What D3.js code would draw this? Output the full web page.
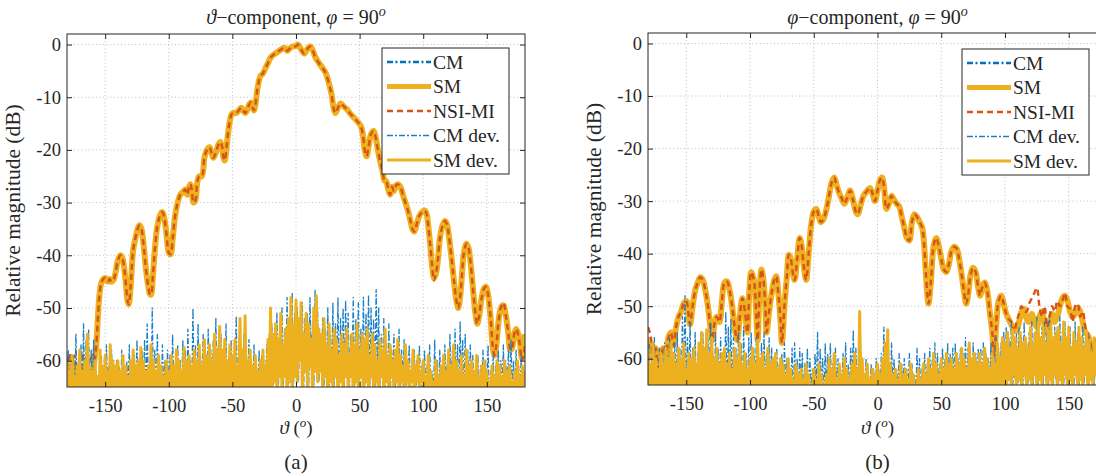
<!DOCTYPE html>
<html>
<head>
<meta charset="utf-8">
<script src="https://cdn.jsdelivr.net/npm/d3@7"></script>
<style>
body { margin: 0; background: #fff; }
svg text { font-family: "Liberation Serif", "Times New Roman", Tinos, "DejaVu Serif", "Noto Serif", FreeSerif, serif; fill: #262626; }
</style>
</head>
<body>
<svg id="fig" width="1096" height="476"></svg>
<script>
// ---- (a) theta component, main curves: angle (deg) and level (dB)
var thA = [-180,-178,-176,-174,-172,-170,-168,-166,-164,-162,
  -160,-158.5,-157,-156,-155,-154,-153,-151.5,-150,-148,
  -146.5,-145,-143.5,-142,-140,-138,-136.5,-135,-133.5,-132.5,
  -131.5,-130,-128,-126,-124.5,-123,-121.5,-120,-119,-118,
  -117,-116,-115,-114,-112.5,-111,-109,-107,-105.5,-104.5,
  -103.5,-102,-101,-100,-98.5,-97,-95,-93,-91,-89,
  -87,-85.5,-84,-83,-82,-80.5,-79,-77.5,-76,-74,
  -72,-70,-68,-66.5,-65,-63,-61,-59.5,-58,-57,
  -56,-55,-53.5,-52,-50.5,-49,-47,-45,-43,-41.5,
  -40,-38.5,-37,-35.5,-34,-33,-32,-30,-28,-26,
  -24,-22,-20,-18,-15,-12,-9,-7,-5.5,-3,
  0,1.5,3,5,6.5,8,10,11.5,13,15,
  18,21,23.5,26,28,29.5,31,33,35,37,
  40,43,46,49,51,52.5,54,55.5,57,59,
  61,62.5,64,66,68,69.5,71,72.5,74,75.5,
  77,78.5,80,82,84,86,88,90,91.5,93,
  95,97,99,101,102.5,104,105.5,107,108.5,110,
  111.5,113,115,117,118.5,120,122,124,126,127.5,
  129,130.5,132,134,135.5,137,139,141,142.5,144,
  146,148,149.5,151,153,154.5,156,157.5,159,161,
  163,165,167,168.5,170,171.5,173,174.5,176,177.5,
  179,180];

var smA = [-61,-63,-60,-62.5,-65,-63,-61,-64,-66,-64,
  -62,-60,-57,-53,-49,-46.5,-45.2,-44.5,-44.3,-45,
  -44.5,-45,-44.7,-43.5,-41,-40,-40.5,-42.5,-46,-48.5,
  -49.3,-46,-39,-36.5,-35,-34.3,-35,-37.5,-40,-42.5,
  -44.5,-46,-47.3,-47.5,-44,-39,-34.5,-32.5,-31.8,-32,
  -33,-35.5,-38,-39.5,-39.8,-37,-32.5,-30,-28.5,-28,
  -27.5,-28.5,-27,-26.5,-27.5,-30,-29.5,-26,-25,-25,
  -21.5,-20,-19.5,-20.5,-21.5,-20.5,-19,-18.5,-19.5,-21.5,
  -22,-20.5,-17,-14.5,-13.2,-13,-13,-12.5,-12,-12.5,
  -13,-12.5,-11.5,-11,-12,-12.5,-11.5,-8,-6,-5.5,
  -4.5,-3.5,-2.5,-2,-1.5,-1,-0.6,-1.2,-0.9,-0.4,
  -0.3,0,-0.5,-1.3,-1.7,-1.2,-0.5,-0.4,-1,-2.3,
  -3.5,-4.5,-5.5,-7.5,-9.5,-12,-13,-12,-11.2,-11.6,
  -12.3,-13.2,-14,-14.8,-15.5,-17,-20,-21.2,-19.5,-17,
  -16.4,-17.5,-19.5,-22,-24,-25.8,-26,-27.5,-28.5,-27,
  -27.8,-26.8,-26.5,-27,-28.5,-30,-31.5,-33.5,-35,-35.5,
  -34,-32.5,-31.8,-31.5,-32,-34.5,-38,-42,-44.3,-43.5,
  -41,-37,-34.5,-33.5,-34,-36,-40,-44.5,-48.5,-50,
  -48,-43.5,-39.5,-37.8,-38.5,-41,-46,-51,-53,-51.5,
  -48,-46.2,-46,-47.5,-52,-57,-59,-57,-53,-50,
  -49.5,-51.5,-55,-58,-57.5,-55,-54,-54.8,-56.5,-59.5,
  -57,-55];

// CM and SM coincide to within the line width
var cmA = smA;

var nsiA = [-62,-58.5,-61,-59,-62,-60,-58.5,-62,-63,-60,
  -59,-60,-57,-53,-49,-46.5,-45.2,-44.5,-44.3,-45,
  -44.5,-45,-44.7,-43.5,-41,-40,-40.5,-42.5,-46,-48.5,
  -49.3,-46,-39,-36.5,-35,-34.3,-35,-37.5,-40,-42.5,
  -44.5,-46,-47.3,-47.5,-44,-39,-34.5,-32.5,-31.8,-32,
  -33,-35.5,-38,-39.5,-39.8,-37,-32.5,-30,-28.5,-28,
  -27.5,-28.5,-27,-26.5,-27.5,-30,-29.5,-26,-25,-25,
  -21.5,-20,-19.5,-20.5,-21.5,-20.5,-19,-18.5,-19.5,-21.5,
  -22,-20.5,-17,-14.5,-13.2,-13,-13,-12.5,-12,-12.5,
  -13,-12.5,-11.5,-11,-12,-12.5,-11.5,-8,-6,-5.5,
  -4.5,-3.5,-2.5,-2,-1.5,-1,-0.6,-1.2,-0.9,-0.4,
  -0.3,0,-0.5,-1.3,-1.7,-1.2,-0.5,-0.4,-1,-2.3,
  -3.5,-4.5,-5.5,-7.5,-9.5,-12,-13,-12,-11.2,-11.6,
  -12.3,-13.2,-14,-14.8,-15.5,-17,-20,-21.2,-19.5,-17,
  -16.4,-17.5,-19.5,-22,-24,-25.8,-26,-27.5,-28.5,-27,
  -27.8,-26.8,-26.5,-27,-28.5,-30,-31.5,-33.5,-35,-35.5,
  -34,-32.5,-31.8,-31.5,-32,-34.5,-38,-42,-44.8,-43.5,
  -41,-37,-34.5,-33.5,-34,-36,-40,-44.5,-48.5,-50,
  -48,-43.5,-39.5,-37.8,-38.5,-41,-46,-51,-53,-51.5,
  -48,-46.2,-46,-47.5,-52,-57,-59,-57,-53,-50,
  -49,-51.5,-55,-58,-57.5,-55,-54,-55,-57,-60,
  -59,-57];

// (a) deviation curves, one value per degree from -180 to 180
var smDevA = [
  -60,-67,-62,-70,-59,-66,-63,-69,-61,-66,-58,-68,-62,-66,-60,-69,-55,-66,-61,-68,
  -62,-69,-60,-66,-63,-70,-58,-66,-61,-68,-59,-67,-62,-70,-57,-66,-60,-68,-61,-66,
  -60,-68,-62,-66,-59,-69,-61,-66,-63,-70,-60,-66,-58,-68,-61,-66,-60,-69,-57.5,-66,
  -60,-68,-62,-66,-61,-70,-57,-66,-60,-68,-62,-66,-59,-69,-61,-66,-63,-70,-60,-66,
  -62,-68,-59,-66,-61,-69,-58,-66,-60,-68,-62,-66,-57.5,-69,-60,-66,-59,-68,-61,-66,
  -58,-68,-60,-66,-57,-69,-61,-66,-56,-68,-59,-66,-57,-69,-60,-66,-55,-68,-58,-66,
  -53.5,-68,-58,-66,-56,-69,-60,-66,-57,-68,-59,-66,-56,-69,-61,-66,-52,-68,-58,-66,
  -51.5,-68,-60,-66,-58,-69,-61,-66,-59,-68,-62,-66,-60,-69,-58,-66,-61,-68,-56,-66,
  -50,-67,-55,-64,-53,-68,-56,-63,-51,-66,-57,-63,-54,-67,-52,-64,-48,-66,-53,-63,
  -48.5,-64,-52,-60,-49,-66,-55,-62,-51,-65,-53,-61,-56,-66,-50,-62,-47.7,-64,-54,-62,
  -55,-66,-52,-63,-57,-68,-53,-64,-58,-66,-54,-63,-56,-68,-59,-64,-55,-66,-57,-63,
  -54,-66,-59,-63,-55,-68,-57,-64,-53,-66,-58,-63,-55,-68,-56,-64,-54,-66,-59,-63,
  -55,-66,-57,-64,-60,-68,-56,-63,-58,-66,-54,-64,-59,-68,-57,-63,-60,-66,-58,-64,
  -56,-66,-59,-64,-61,-68,-57,-64,-60,-66,-62,-64,-58,-68,-61,-64,-59,-66,-62,-64,
  -60,-68,-63,-66,-59,-69,-62,-66,-64,-68,-60,-66,-63,-69,-61,-66,-59,-68,-62,-66,
  -58,-68,-61,-66,-57,-69,-60,-66,-62,-68,-59,-66,-63,-69,-58,-66,-61,-68,-60,-66,
  -62,-68,-59,-66,-63,-69,-61,-66,-60,-68,-62,-66,-64,-69,-61,-66,-63,-68,-60,-66,
  -61,-68,-63,-66,-60,-69,-62,-66,-61,-68,-64,-66,-62,-69,-60,-66,-63,-68,-61,-66,
  -62];

var cmDevA = [
  -66,-58,-69,-62,-66,-59,-70,-55,-66,-60,-68,-57,-66,-53,-69,-56,-66,-54,-68,-58,
  -66,-56,-69,-62,-66,-64,-70,-59,-66,-62,-68,-57,-66,-61,-69,-58,-66,-62,-68,-60,
  -66,-61,-69,-58,-66,-63,-70,-60,-66,-57,-68,-62,-66,-59,-69,-56,-66,-61,-68,-58,
  -66,-56,-69,-53,-66,-60,-70,-50,-66,-58,-68,-55,-66,-61,-69,-57,-66,-60,-68,-58,
  -66,-59,-69,-55,-66,-61,-70,-57,-66,-60,-68,-56,-66,-58,-69,-54,-66,-60,-68,-50,
  -66,-57,-69,-53,-66,-59,-70,-55,-66,-61,-68,-54,-66,-58,-69,-56,-66,-52,-68,-57,
  -66,-55,-69,-58,-66,-53,-70,-60,-66,-56,-68,-59,-66,-51.5,-69,-57,-66,-60,-68,-55,
  -66,-58,-69,-56,-66,-60,-70,-57,-66,-61,-68,-58,-66,-59,-69,-62,-66,-57,-68,-55,
  -66,-53,-67,-56,-64,-51,-68,-55,-63,-50,-66,-54,-63,-48,-67,-52,-64,-47,-66,-51,
  -63,-50,-64,-53,-60,-49,-66,-52,-62,-51,-65,-48,-61,-53,-66,-46.5,-62,-50,-64,-55,
  -62,-52,-66,-54,-63,-50,-68,-55,-64,-49,-66,-53,-63,-48,-68,-52,-64,-50,-66,-48.5,
  -63,-51,-66,-55,-63,-48,-68,-52,-64,-49,-66,-54,-63,-48,-68,-51,-64,-47.5,-66,-50,
  -63,-52,-66,-46.5,-64,-50,-68,-55,-63,-52,-66,-57,-64,-53,-68,-58,-63,-55,-66,-60,
  -64,-54,-66,-58,-64,-56,-68,-60,-64,-57,-66,-62,-64,-58,-68,-60,-64,-57,-66,-61,
  -68,-58,-66,-61,-69,-57,-66,-62,-68,-56,-66,-60,-69,-58,-66,-62,-68,-57,-66,-60,
  -68,-55,-66,-58,-69,-54,-66,-57,-68,-52.5,-66,-56,-69,-55,-66,-58,-68,-57,-66,-59,
  -68,-62,-66,-59,-69,-61,-66,-58,-68,-60,-66,-57,-69,-62,-66,-59,-68,-61,-66,-58,
  -68,-60,-66,-57,-69,-61,-66,-58,-68,-56,-66,-60,-69,-58,-66,-61,-68,-59,-66,-62,
  -66];

// ---- (b) phi component, main curves
var thB = [-180,-178,-176,-174,-172,-170,-168,-166,-164,-162,
  -160,-158,-156,-154,-152,-150,-148.5,-147,-145,-143,
  -141,-139,-137,-135,-133,-131,-129.5,-128,-126,-124,
  -122,-120,-118,-116,-114,-112,-110,-108,-106,-104,
  -102,-100.5,-99,-97,-95,-94,-92.5,-91,-89.5,-88,
  -87,-85,-83,-81,-79.5,-78,-76,-75,-73,-71,
  -69.5,-68,-66.5,-65,-63,-61,-59.5,-58,-56,-54,
  -52,-50,-48,-46,-44.5,-42.5,-40,-38,-36,-34,
  -32,-30,-28,-26,-24,-21.5,-19,-17,-15.5,-13,
  -11,-8,-6,-4,-2,0,2,3.5,5,7,
  9,11,13,15,17,19,21,23,25,27,
  29,31,33,35,36.5,38,40,42,44,46,
  48,50,52,54,56,58,60,62,64,66,
  68,69.5,71,73,75,77,79,80.5,82,84,
  86,88,90,91.5,93,95,97,99,101,103,
  105,107,109,111,113,115,117,119,121,123,
  125,127,129,131,133,135,137,139,141,143,
  145,147,149,151,153,155,157,159,161,163,
  165,167,169,171,173,175,177,180];

var smB = [-56,-57.5,-60,-58,-62,-60,-58,-59.5,-56,-55,
  -57.5,-54,-52,-51,-49.5,-49,-51,-53.5,-50,-47,
  -45.5,-44.5,-45,-47,-50,-54,-56.5,-53.5,-52,-53,
  -49,-45.5,-45.3,-47,-50,-54,-56.5,-52,-48.5,-51,
  -55,-47,-43.5,-45,-52,-56.5,-47,-43,-45,-50,
  -55,-51,-47.5,-45,-44.3,-47,-53,-57,-50,-44,
  -40.2,-41,-43.5,-45,-41,-37,-38.5,-42,-45,-40,
  -34.5,-32,-31.5,-33,-34,-33.5,-31.5,-29,-26.5,-25.5,
  -27,-28.5,-29.5,-30.5,-29.5,-28,-30,-32,-32.5,-30.5,
  -29,-28,-27.5,-28.5,-30,-28,-26,-25.5,-27,-31.5,
  -30.5,-29,-29.8,-30.5,-31,-33,-35,-37,-37.5,-34,
  -32.5,-33,-34,-35,-38,-44,-49.5,-45,-38.5,-37,
  -38.5,-41,-43,-43.5,-42,-39.5,-38.7,-39,-41,-44,
  -47.5,-49.5,-48,-44,-42.7,-43.5,-46.5,-48,-46.5,-45.5,
  -47,-51,-55,-59.5,-54,-49,-48,-49.5,-51.5,-52.5,
  -53.5,-54.5,-54.7,-53,-51,-50.5,-52.5,-53,-51.5,-53,
  -54,-52,-51,-53.5,-55,-53,-51.5,-53,-52,-50,
  -48.5,-48,-49,-51,-52,-51.5,-50.3,-51,-53,-55,
  -55.5,-57,-59,-61,-63,-60,-58,-57];

var cmB = smB;

var nsiB = [-54,-55.5,-60,-58,-62,-60,-58,-59.5,-56,-55,
  -57.5,-54,-52,-51,-49.5,-49,-51,-53.5,-50,-47,
  -45.5,-44.5,-45,-47,-50,-54,-56.5,-53.5,-52,-53,
  -49,-45.5,-45.3,-47,-50,-54,-56.5,-52,-48.5,-51,
  -55,-47,-43.5,-45,-52,-56.5,-47,-43,-45,-50,
  -55,-51,-47.5,-45,-44.3,-47,-53,-57,-50,-44,
  -40.2,-41,-43.5,-45,-41,-37,-38.5,-42,-45,-40,
  -34.5,-32,-31.5,-33,-34,-33.5,-31.5,-29,-26.5,-25.5,
  -27,-28.5,-29.5,-30.5,-29.5,-28,-30,-32,-32.5,-30.5,
  -29,-28,-27.5,-28.5,-30,-28,-26,-25.5,-27,-31.5,
  -30.5,-29,-29.8,-30.5,-31,-33,-35,-37,-37.5,-34,
  -32.5,-33,-34,-35,-38,-44,-49.5,-45,-38.5,-37,
  -38.5,-41,-43,-43.5,-42,-39.5,-38.7,-39,-41,-44,
  -47.5,-49.5,-48,-44,-42.7,-43.5,-46.5,-48,-46.5,-45.5,
  -47,-51,-55,-59.5,-54,-49,-48,-49.5,-51.5,-52.5,
  -53,-55,-53,-51.5,-50,-51,-51,-49.5,-48.5,-47.5,
  -46.5,-50,-52,-50,-54,-52,-50,-51,-49,-50,
  -49,-47.5,-50,-50.5,-53,-50,-49.5,-52,-51,-54,
  -55.5,-57,-59,-61,-63,-60,-58,-57];

// (b) deviation curves, one value per degree
var smDevB = [
  -58,-68,-61,-66,-57,-69,-60,-66,-62,-68,-59,-66,-61,-69,-58,-66,-60,-68,-57,-66,
  -59,-68,-61,-66,-58,-69,-60,-66,-57,-68,-62,-66,-59,-69,-60,-66,-58,-68,-61,-66,
  -57,-68,-55,-66,-58,-69,-54.5,-66,-59,-68,-56,-66,-60,-69,-58,-66,-61,-68,-59,-66,
  -58,-68,-61,-66,-59,-69,-62,-66,-58,-68,-60,-66,-57,-69,-61,-66,-59,-68,-62,-66,
  -60,-68,-58,-66,-61,-69,-56.5,-66,-60,-68,-59,-66,-62,-69,-58,-66,-61,-68,-60,-66,
  -59,-68,-62,-66,-60,-69,-61,-66,-63,-68,-60,-66,-62,-69,-64,-66,-61,-68,-63,-66,
  -62,-68,-64,-66,-61,-69,-63,-66,-65,-68,-62,-66,-64,-69,-61,-66,-63,-68,-65,-66,
  -63,-68,-60,-66,-62,-69,-59,-66,-64,-68,-61,-66,-63,-69,-60,-66,-62,-68,-64,-66,
  -61,-68,-59,-66,-62,-69,-51,-66,-60,-68,-63,-66,-61,-69,-64,-66,-62,-68,-63,-66,
  -61,-68,-63,-66,-60,-69,-57,-66,-54.5,-68,-61,-66,-63,-69,-62,-66,-64,-68,-61,-66,
  -63,-68,-62,-66,-64,-69,-61,-66,-63,-68,-65,-66,-62,-69,-64,-66,-61,-68,-63,-66,
  -60,-68,-62,-66,-59,-69,-61,-66,-63,-68,-60,-66,-62,-69,-59,-66,-61,-68,-60,-66,
  -62,-68,-59,-66,-61,-69,-58,-66,-60,-68,-62,-66,-57,-69,-60,-66,-59,-68,-61,-66,
  -59,-68,-61,-66,-58,-69,-60,-66,-62,-68,-59,-66,-61,-69,-57,-66,-60,-68,-56,-66,
  -57,-66,-55,-64,-58,-67,-54.5,-63,-56,-66,-58,-64,-55,-67,-57,-63,-56,-66,-58,-64,
  -54,-66,-57,-63,-55,-67,-53,-64,-56,-66,-54,-63,-57,-67,-55,-64,-53.5,-66,-56,-63,
  -55,-66,-54,-64,-57,-67,-53,-63,-56,-66,-54,-64,-58,-67,-55,-63,-57,-66,-54,-64,
  -56,-66,-58,-63,-55,-67,-57,-64,-59,-66,-56,-63,-58,-67,-60,-64,-57,-66,-59,-64,
  -58];

var cmDevB = [
  -66,-57,-69,-60,-66,-56,-68,-62,-66,-58,-69,-61,-66,-57,-68,-59,-66,-56,-69,-60,
  -66,-57,-68,-55,-66,-58,-69,-52,-66,-48,-68,-56,-66,-53,-69,-58,-66,-55,-68,-59,
  -66,-57,-69,-55,-66,-58,-68,-56,-66,-53,-69,-59,-66,-55,-68,-58,-66,-56,-69,-60,
  -66,-51,-68,-54,-66,-52.5,-69,-56,-66,-58,-68,-55,-66,-57,-69,-54,-66,-59,-68,-56,
  -66,-55,-69,-58,-66,-56,-68,-60,-66,-57,-69,-55,-66,-59,-68,-56,-66,-58,-69,-60,
  -66,-58,-68,-61,-66,-59,-69,-57,-66,-60,-68,-62,-66,-58,-69,-57,-66,-60,-68,-58,
  -66,-59,-69,-61,-66,-58,-68,-60,-66,-62,-69,-59,-66,-55,-68,-58,-66,-60,-69,-57,
  -66,-59,-68,-57,-66,-61,-69,-58,-66,-60,-68,-62,-66,-59,-69,-57,-66,-61,-68,-58,
  -66,-54.5,-69,-58,-66,-61,-68,-59,-66,-62,-69,-60,-66,-63,-68,-61,-66,-62,-69,-60,
  -66,-62,-68,-59,-66,-54,-69,-58,-66,-61,-68,-57,-66,-60,-69,-62,-66,-59,-68,-61,
  -66,-60,-69,-62,-66,-59,-68,-61,-66,-63,-69,-58,-66,-60,-68,-62,-66,-59,-69,-61,
  -66,-58,-68,-60,-66,-57,-69,-59,-66,-61,-68,-58,-66,-60,-69,-57,-66,-59,-68,-58,
  -66,-57,-69,-60,-66,-58,-68,-59,-66,-56,-69,-58,-66,-60,-68,-57,-66,-59,-69,-58,
  -66,-58,-68,-57,-66,-59,-69,-60,-66,-57,-68,-59,-66,-56,-69,-58,-66,-57,-68,-55,
  -64,-54,-66,-56,-63,-53,-67,-57,-64,-55,-66,-54,-63,-56,-67,-53,-64,-57,-66,-55,
  -63,-53,-66,-55,-64,-52,-67,-56,-63,-54,-66,-53,-64,-55,-67,-52,-63,-56,-66,-54,
  -64,-54,-66,-52,-63,-55,-67,-53,-64,-56,-66,-54,-63,-57,-67,-53,-64,-55,-66,-56,
  -63,-54,-66,-56,-64,-55,-67,-57,-63,-58,-66,-56,-64,-59,-67,-57,-63,-60,-66,-58,
  -64];

var devTheta = d3.range(-180, 181, 1);
var xTicks = [-150, -100, -50, 0, 50, 100, 150];
var yTicks = [0, -10, -20, -30, -40, -50, -60];
var legendNames = ["CM", "SM", "NSI-MI", "CM dev.", "SM dev."];

var styles = {
  "CM":      {color: "#0072BD", width: 2.4, dash: "6,2.5,2,2.5"},
  "SM":      {color: "#EDB120", width: 6,   dash: null},
  "NSI-MI":  {color: "#D95319", width: 2.4, dash: "6,4"},
  "CM dev.": {color: "#1a7fc6", width: 1.3, dash: "6,2,2,2"},
  "SM dev.": {color: "#EDB120", width: 3,   dash: null}
};

var FONT = "'Liberation Serif', 'Times New Roman', Tinos, 'DejaVu Serif', 'Noto Serif', serif";
var svg = d3.select("#fig");

function drawPanel(p) {
  var x = d3.scaleLinear().domain([-180, 180]).range([p.left, p.right]);
  var y = d3.scaleLinear().domain([-65, 2]).range([p.bottom, p.top]);
  var g = svg.append("g");

  g.append("clipPath").attr("id", p.id + "-clip")
    .append("rect")
    .attr("x", p.left).attr("y", p.top)
    .attr("width", p.right - p.left).attr("height", p.bottom - p.top);

  // dotted grid
  g.selectAll(".vg").data(xTicks).enter().append("line")
    .attr("x1", d => x(d)).attr("x2", d => x(d))
    .attr("y1", p.top).attr("y2", p.bottom)
    .attr("stroke", "#b5b5b5").attr("stroke-width", 0.9).attr("stroke-dasharray", "1,2.6");
  g.selectAll(".hg").data(yTicks).enter().append("line")
    .attr("y1", d => y(d)).attr("y2", d => y(d))
    .attr("x1", p.left).attr("x2", p.right)
    .attr("stroke", "#b5b5b5").attr("stroke-width", 0.9).attr("stroke-dasharray", "1,2.6");

  var plot = g.append("g").attr("clip-path", "url(#" + p.id + "-clip)");

  function mainLine(th) {
    return d3.line().x((d, i) => x(th[i])).y(d => y(d)).curve(d3.curveCatmullRom.alpha(0.5));
  }
  var devLine = d3.line().x((d, i) => x(devTheta[i])).y(d => y(d));

  var series = [
    {name: "CM", data: p.cm, line: mainLine(p.th)},
    {name: "SM", data: p.sm, line: mainLine(p.th)},
    {name: "NSI-MI", data: p.nsi, line: mainLine(p.th)},
    {name: "CM dev.", data: p.cmDev, line: devLine},
    {name: "SM dev.", data: p.smDev, line: devLine}
  ];
  series.forEach(function(s) {
    var st = styles[s.name];
    plot.append("path")
      .attr("d", s.line(s.data))
      .attr("fill", "none")
      .attr("stroke", st.color)
      .attr("stroke-width", st.width)
      .attr("stroke-dasharray", st.dash)
      .attr("stroke-linejoin", "round");
  });

  // axes with inward ticks on all four sides
  var fmt = d => String(d);
  g.append("g").attr("transform", "translate(0," + p.bottom + ")")
    .call(d3.axisBottom(x).tickValues(xTicks).tickSize(-5).tickPadding(12).tickFormat(fmt));
  g.append("g").attr("transform", "translate(0," + p.top + ")")
    .call(d3.axisTop(x).tickValues(xTicks).tickSize(-5).tickFormat(""));
  g.append("g").attr("transform", "translate(" + p.left + ",0)")
    .call(d3.axisLeft(y).tickValues(yTicks).tickSize(-5).tickPadding(6).tickFormat(fmt));
  g.append("g").attr("transform", "translate(" + p.right + ",0)")
    .call(d3.axisRight(y).tickValues(yTicks).tickSize(-5).tickFormat(""));
  g.selectAll(".domain").remove();
  g.selectAll(".tick line").attr("stroke", "#262626");
  g.selectAll(".tick text").attr("font-family", FONT).style("font-family", FONT)
    .style("font-size", "18.5px").attr("fill", "#262626");

  g.append("rect")
    .attr("x", p.left).attr("y", p.top)
    .attr("width", p.right - p.left).attr("height", p.bottom - p.top)
    .attr("fill", "none").attr("stroke", "#262626").attr("stroke-width", 1);

  // title
  var cx = (p.left + p.right) / 2;
  var t = g.append("text").attr("x", cx).attr("y", 24).attr("text-anchor", "middle")
    .style("font-family", FONT).style("font-size", "20px");
  t.append("tspan").style("font-style", "italic").text(p.sym);
  t.append("tspan").text("\u2212component, ");
  t.append("tspan").style("font-style", "italic").text("\u03c6");
  t.append("tspan").text(" = 90");
  t.append("tspan").style("font-style", "italic").style("font-size", "14px").attr("dy", -8).text("o");

  // x label
  var xl = g.append("text").attr("x", cx).attr("y", 434).attr("text-anchor", "middle")
    .style("font-family", FONT).style("font-size", "19px");
  xl.append("tspan").style("font-style", "italic").text("\u03d1");
  xl.append("tspan").text(" (");
  xl.append("tspan").style("font-style", "italic").style("font-size", "13px").attr("dy", -7).text("o");
  xl.append("tspan").attr("dy", 7).text(")");

  // y label
  g.append("text")
    .attr("transform", "translate(" + (p.left - 47) + "," + ((p.top + p.bottom) / 2) + ") rotate(-90)")
    .attr("text-anchor", "middle").style("font-family", FONT).style("font-size", "21.5px")
    .text("Relative magnitude (dB)");

  // caption
  g.append("text").attr("x", cx).attr("y", 469).attr("text-anchor", "middle")
    .style("font-family", FONT).style("font-size", "21px").text(p.caption);

  // legend
  var lg = g.append("g").attr("transform", "translate(" + p.legX + "," + p.legY + ")");
  lg.append("rect").attr("width", 127).attr("height", 126)
    .attr("fill", "#fff").attr("stroke", "#262626").attr("stroke-width", 1);
  legendNames.forEach(function(n, i) {
    var st = styles[n];
    var yy = 14 + i * 24.5;
    lg.append("line").attr("x1", 5).attr("x2", 49).attr("y1", yy).attr("y2", yy)
      .attr("stroke", st.color).attr("stroke-width", Math.min(st.width, 5))
      .attr("stroke-dasharray", st.dash);
    lg.append("text").attr("x", 51).attr("y", yy + 6.5)
      .style("font-family", FONT).style("font-size", "19.5px").text(n);
  });
}

drawPanel({id: "pa", left: 67, right: 525, top: 34, bottom: 387,
  th: thA, cm: cmA, sm: smA, nsi: nsiA, cmDev: cmDevA, smDev: smDevA,
  sym: "\u03d1", caption: "(a)", legX: 382, legY: 48});
drawPanel({id: "pb", left: 648, right: 1107, top: 33, bottom: 385,
  th: thB, cm: cmB, sm: smB, nsi: nsiB, cmDev: cmDevB, smDev: smDevB,
  sym: "\u03c6", caption: "(b)", legX: 962, legY: 49});
</script>
</body>
</html>
